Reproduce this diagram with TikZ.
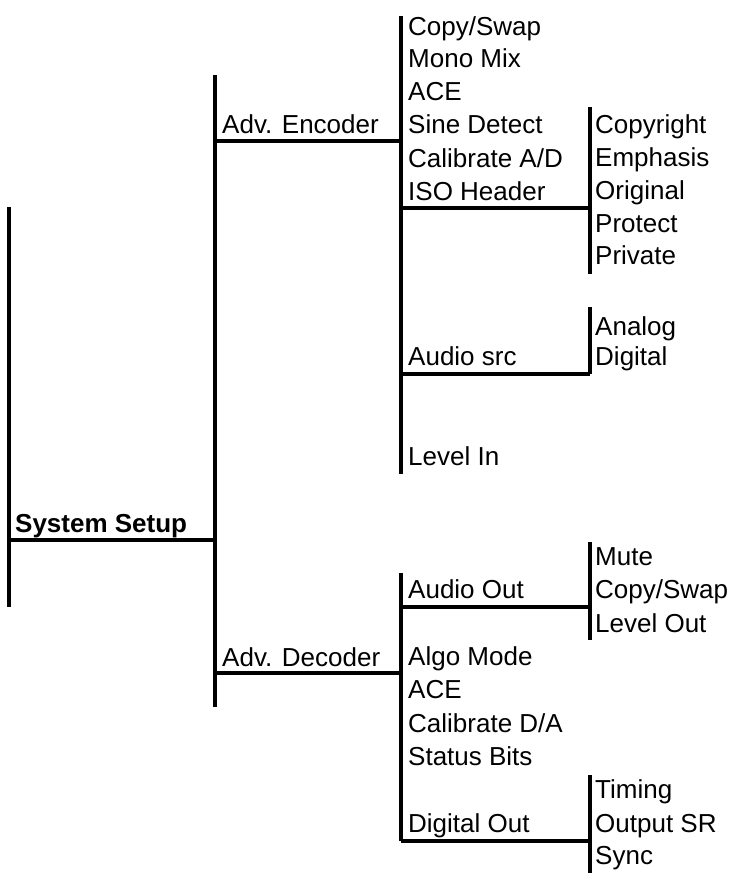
\documentclass[tikz,border=0pt]{standalone}
\usepackage{fontspec}
\setmainfont{Liberation Sans}
\begin{document}
\begin{tikzpicture}[x=1pt,y=-1pt,
  lbl/.style={anchor=base west,inner sep=0pt,font=\fontsize{26}{30}\selectfont},
  bar/.style={line width=3.3pt,black}]
\useasboundingbox (0,0) rectangle (734,873);
% level 0
\coordinate (r0t) at (9,207); \coordinate (r0b) at (9,607);
\coordinate (r0h) at (9,540);
\node[lbl,font=\fontsize{26}{30}\selectfont\bfseries] (sys) at (15,532) {System Setup};
% level 1
\coordinate (l1t) at (215,75); \coordinate (l1b) at (215,707);
\coordinate (l1s) at (215,540);
\coordinate (enc) at (215,141); \coordinate (dec) at (215,673);
\node[lbl] (advenc) at (222,133) {Adv. Encoder};
\node[lbl] (advdec) at (222,666) {Adv. Decoder};
% level 2 encoder
\coordinate (e2t) at (401,16); \coordinate (e2b) at (401,474);
\coordinate (e2h) at (401,141);
\coordinate (iso) at (401,208); \coordinate (asrc) at (401,374);
\node[lbl] (e1) at (408,35) {Copy/Swap};
\node[lbl] (e2) at (408,67) {Mono Mix};
\node[lbl] (e3) at (408,100) {ACE};
\node[lbl] (e4) at (408,133) {Sine Detect};
\node[lbl] (e5) at (408,167) {Calibrate A/D};
\node[lbl] (e6) at (408,200) {ISO Header};
\node[lbl] (e7) at (408,365) {Audio src};
\node[lbl] (e8) at (408,465) {Level In};
% level 3 ISO header
\coordinate (i3t) at (590,107); \coordinate (i3b) at (590,274);
\coordinate (i3h) at (590,208);
\node[lbl] (i1) at (595,133) {Copyright};
\node[lbl] (i2) at (595,166) {Emphasis};
\node[lbl] (i3) at (595,199) {Original};
\node[lbl] (i4) at (595,232) {Protect};
\node[lbl] (i5) at (595,264) {Private};
% level 3 audio src
\coordinate (a3t) at (590,307); \coordinate (a3b) at (590,374);
\node[lbl] (a1) at (595,335) {Analog};
\node[lbl] (a2) at (595,365) {Digital};
% level 2 decoder
\coordinate (d2t) at (401,573); \coordinate (d2b) at (401,841);
\coordinate (d2h) at (401,673);
\coordinate (aout) at (401,607); \coordinate (dout) at (401,841);
\node[lbl] (d1) at (408,598) {Audio Out};
\node[lbl] (d2) at (408,665) {Algo Mode};
\node[lbl] (d3) at (408,698) {ACE};
\node[lbl] (d4) at (408,732) {Calibrate D/A};
\node[lbl] (d5) at (408,765) {Status Bits};
\node[lbl] (d6) at (408,832) {Digital Out};
% level 3 audio out
\coordinate (o3t) at (590,542); \coordinate (o3b) at (590,640);
\coordinate (o3h) at (590,607);
\node[lbl] (o1) at (595,565) {Mute};
\node[lbl] (o2) at (595,598) {Copy/Swap};
\node[lbl] (o3) at (595,632) {Level Out};
% level 3 digital out
\coordinate (g3t) at (590,775); \coordinate (g3b) at (590,873);
\coordinate (g3h) at (590,841);
\node[lbl] (g1) at (595,798) {Timing};
\node[lbl] (g2) at (595,832) {Output SR};
\node[lbl] (g3) at (595,864) {Sync};
% bars
\draw[bar] (r0t) -- (r0b);
\draw[bar] (r0h) -- (l1s);
\draw[bar] (l1t) -- (l1b);
\draw[bar] (enc) -- (e2h);
\draw[bar] (dec) -- (d2h);
\draw[bar] (e2t) -- (e2b);
\draw[bar] (d2t) -- (d2b);
\draw[bar] (iso) -- (i3h);
\draw[bar] (i3t) -- (i3b);
\draw[bar] (asrc) -- (a3b);
\draw[bar] (a3t) -- (a3b);
\draw[bar] (aout) -- (o3h);
\draw[bar] (o3t) -- (o3b);
\draw[bar] (dout) -- (g3h);
\draw[bar] (g3t) -- (g3b);
\end{tikzpicture}
\end{document}
